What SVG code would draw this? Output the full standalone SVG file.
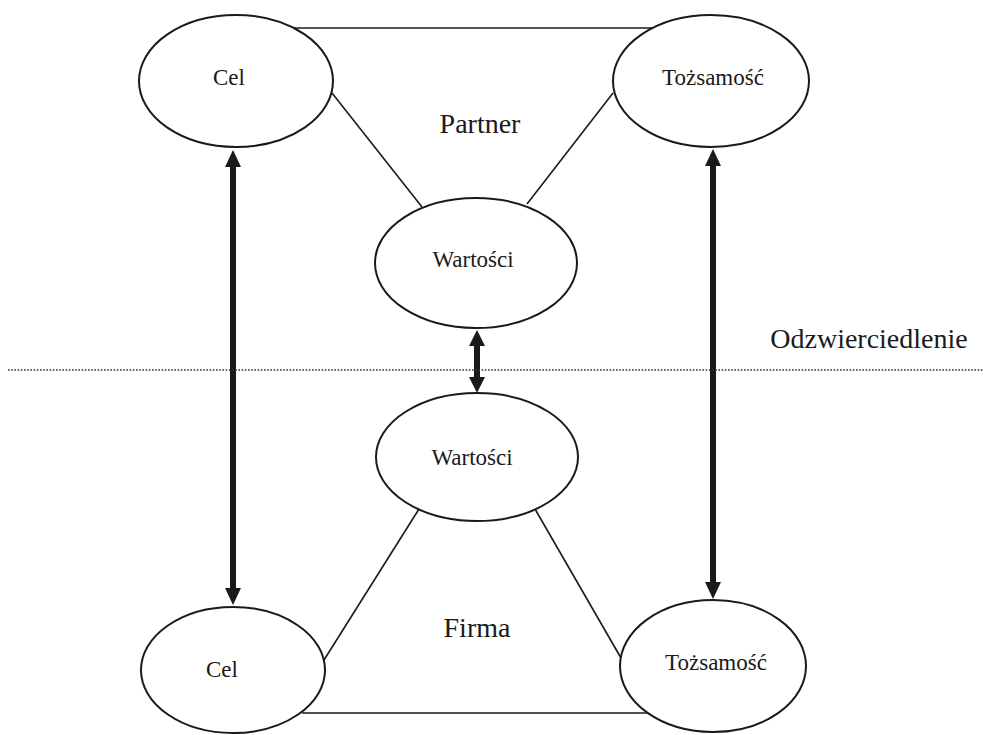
<svg xmlns="http://www.w3.org/2000/svg" width="983" height="735" viewBox="0 0 983 735">
<style>
.node{fill:#fff;stroke:#1a1a1a;stroke-width:2}
.lbl{font-family:"Liberation Serif","Times New Roman",serif;font-size:23px;fill:#1a1a1a;text-anchor:middle}
.big{font-family:"Liberation Serif","Times New Roman",serif;font-size:28px;fill:#1a1a1a;text-anchor:middle}
.ln{stroke:#1a1a1a;stroke-width:1.6;fill:none}
.shaft{stroke:#1a1a1a;stroke-width:6;fill:none}
.head{fill:#1a1a1a}
.dot{stroke:#333;stroke-width:1.6;stroke-dasharray:1.6 1.6;fill:none}
</style>
<rect width="983" height="735" fill="#fff"/>
<g id="connectors">
<line class="ln" x1="294" y1="28" x2="653" y2="28"/>
<line class="ln" x1="332" y1="93" x2="422" y2="207"/>
<line class="ln" x1="613" y1="93" x2="527" y2="204"/>
<line class="ln" x1="419" y1="509" x2="324" y2="660"/>
<line class="ln" x1="535" y1="509" x2="621" y2="658"/>
<line class="ln" x1="302" y1="713" x2="648" y2="713"/>
<line class="shaft" x1="233" y1="164" x2="233" y2="592"/>
<polygon class="head" points="233,150 225,167 241,167"/>
<polygon class="head" points="233,605 225,588 241,588"/>
<line class="shaft" x1="713" y1="162" x2="713" y2="586"/>
<polygon class="head" points="713,149 705,166 721,166"/>
<polygon class="head" points="713,599 705,582 721,582"/>
<line class="shaft" x1="477" y1="343" x2="477" y2="380"/>
<polygon class="head" points="477,330 469,346 485,346"/>
<polygon class="head" points="477,393 469,377 485,377"/>
</g>
<line class="dot" x1="8" y1="370" x2="983" y2="370"/>
<g id="cel-partner"><ellipse class="node" cx="236" cy="81" rx="97" ry="66"/><text class="lbl" x="229" y="85">Cel</text></g>
<g id="tozsamosc-partner"><ellipse class="node" cx="711" cy="81" rx="98" ry="66"/><text class="lbl" x="713" y="85">Tożsamość</text></g>
<g id="wartosci-partner"><ellipse class="node" cx="476" cy="263" rx="101" ry="65"/><text class="lbl" x="473" y="267">Wartości</text></g>
<g id="wartosci-firma"><ellipse class="node" cx="477" cy="457" rx="101" ry="64"/><text class="lbl" x="472" y="465">Wartości</text></g>
<g id="cel-firma"><ellipse class="node" cx="233" cy="670" rx="92" ry="63"/><text class="lbl" x="222" y="677">Cel</text></g>
<g id="tozsamosc-firma"><ellipse class="node" cx="713" cy="666" rx="93" ry="66"/><text class="lbl" x="716" y="670">Tożsamość</text></g>
<g id="labels">
<text class="big" x="480" y="133">Partner</text>
<text class="big" x="477" y="637">Firma</text>
<text class="big" x="869" y="348">Odzwierciedlenie</text>
</g>
</svg>
